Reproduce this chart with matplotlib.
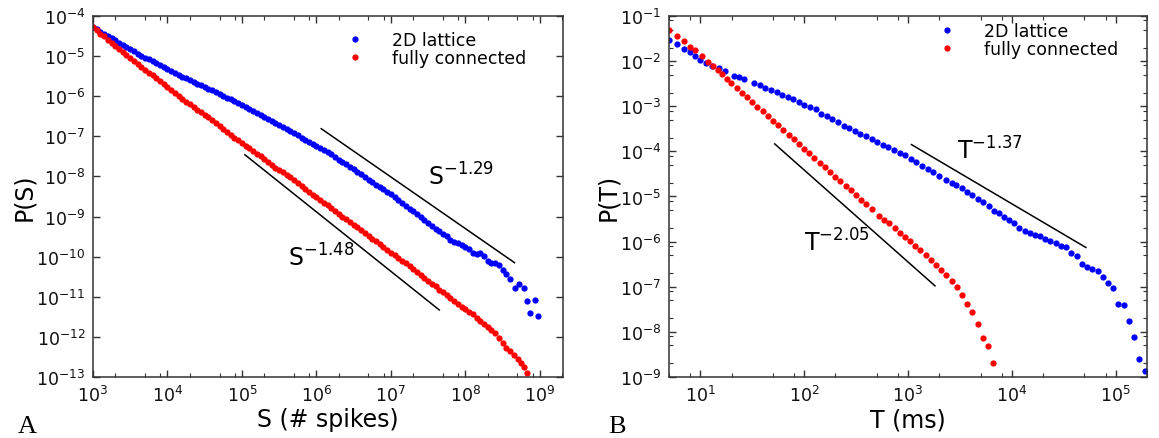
import matplotlib
matplotlib.use("Agg")
import matplotlib.pyplot as plt
from matplotlib.ticker import LogLocator, NullFormatter

# ---------------- data (log10 values) ----------------
# Panel A: avalanche size distribution
logS_lattice = [3.00, 3.05, 3.10, 3.15, 3.20, 3.25, 3.30, 3.35, 3.40, 3.45, 3.50, 3.55, 3.60, 3.65,
                3.70, 3.75, 3.80, 3.85, 3.90, 3.95, 4.00, 4.05, 4.10, 4.15, 4.20, 4.25, 4.30, 4.35,
                4.40, 4.45, 4.50, 4.55, 4.60, 4.65, 4.70, 4.75, 4.80, 4.85, 4.90, 4.95, 5.00, 5.05,
                5.10, 5.15, 5.20, 5.25, 5.30, 5.35, 5.40, 5.45, 5.50, 5.55, 5.60, 5.65, 5.70, 5.75,
                5.80, 5.85, 5.90, 5.95, 6.00, 6.05, 6.10, 6.15, 6.20, 6.25, 6.30, 6.35, 6.40, 6.45,
                6.50, 6.55, 6.60, 6.65, 6.70, 6.75, 6.80, 6.85, 6.90, 6.95, 7.00, 7.05, 7.10, 7.15,
                7.20, 7.25, 7.30, 7.35, 7.40, 7.45, 7.50, 7.55, 7.60, 7.65, 7.70, 7.75, 7.80, 7.85,
                7.90, 7.95, 8.00, 8.05, 8.10, 8.15, 8.20, 8.25, 8.30, 8.35, 8.40, 8.45, 8.50, 8.55,
                8.60, 8.664, 8.72, 8.785, 8.826, 8.87, 8.928, 8.973]
logP_lattice = [-4.27, -4.33, -4.39, -4.45, -4.50, -4.56, -4.61, -4.67, -4.73, -4.78, -4.83, -4.88, -4.94, -4.99,
                -5.04, -5.08, -5.13, -5.17, -5.22, -5.26, -5.31, -5.36, -5.41, -5.46, -5.51, -5.55, -5.60, -5.64,
                -5.69, -5.73, -5.77, -5.81, -5.85, -5.90, -5.95, -5.99, -6.04, -6.08, -6.13, -6.18, -6.23, -6.28,
                -6.32, -6.37, -6.42, -6.47, -6.52, -6.57, -6.62, -6.67, -6.72, -6.77, -6.82, -6.87, -6.92, -6.97,
                -7.03, -7.08, -7.14, -7.19, -7.24, -7.29, -7.34, -7.39, -7.45, -7.51, -7.58, -7.64, -7.70, -7.76,
                -7.82, -7.89, -7.95, -8.01, -8.08, -8.14, -8.21, -8.26, -8.32, -8.38, -8.45, -8.51, -8.58, -8.65,
                -8.73, -8.80, -8.87, -8.94, -9.01, -9.08, -9.17, -9.24, -9.32, -9.36, -9.43, -9.49, -9.58, -9.64,
                -9.67, -9.70, -9.75, -9.82, -9.90, -9.93, -9.90, -9.98, -10.10, -10.16, -10.17, -10.22, -10.33, -10.44,
                -10.55, -10.77, -10.68, -10.79, -11.10, -11.41, -11.08, -11.47]

logS_full = [3.00, 3.05, 3.10, 3.15, 3.20, 3.25, 3.30, 3.35, 3.40, 3.45, 3.50, 3.55, 3.60, 3.65,
             3.70, 3.75, 3.80, 3.85, 3.90, 3.95, 4.00, 4.05, 4.10, 4.15, 4.20, 4.25, 4.30, 4.35,
             4.40, 4.45, 4.50, 4.55, 4.60, 4.65, 4.70, 4.75, 4.80, 4.85, 4.90, 4.95, 5.00, 5.05,
             5.10, 5.15, 5.20, 5.25, 5.30, 5.35, 5.40, 5.45, 5.50, 5.55, 5.60, 5.65, 5.70, 5.75,
             5.80, 5.85, 5.90, 5.95, 6.00, 6.05, 6.10, 6.15, 6.20, 6.25, 6.30, 6.35, 6.40, 6.45,
             6.50, 6.55, 6.60, 6.65, 6.70, 6.75, 6.80, 6.85, 6.90, 6.95, 7.00, 7.05, 7.10, 7.15,
             7.20, 7.25, 7.30, 7.35, 7.40, 7.45, 7.50, 7.55, 7.60, 7.65, 7.70, 7.75, 7.80, 7.85,
             7.90, 7.95, 8.00, 8.05, 8.10, 8.15, 8.20, 8.25, 8.30, 8.35, 8.40, 8.45, 8.50, 8.55,
             8.60, 8.65, 8.70, 8.75, 8.79, 8.83]
logP_full = [-4.28, -4.36, -4.44, -4.51, -4.59, -4.67, -4.74, -4.82, -4.89, -4.97, -5.04, -5.12, -5.20, -5.28,
             -5.35, -5.42, -5.48, -5.55, -5.62, -5.70, -5.78, -5.85, -5.92, -5.99, -6.06, -6.14, -6.20, -6.27,
             -6.34, -6.40, -6.46, -6.53, -6.60, -6.67, -6.75, -6.82, -6.89, -6.96, -7.03, -7.10, -7.16, -7.23,
             -7.30, -7.36, -7.43, -7.50, -7.57, -7.64, -7.71, -7.78, -7.84, -7.90, -7.96, -8.02, -8.08, -8.16,
             -8.24, -8.31, -8.39, -8.46, -8.52, -8.59, -8.66, -8.72, -8.79, -8.86, -8.93, -9.00, -9.06, -9.13,
             -9.20, -9.27, -9.34, -9.41, -9.48, -9.55, -9.62, -9.69, -9.76, -9.83, -9.90, -9.97, -10.03, -10.10,
             -10.16, -10.23, -10.30, -10.38, -10.45, -10.52, -10.60, -10.67, -10.74, -10.82, -10.89, -10.96, -11.04, -11.11,
             -11.19, -11.25, -11.31, -11.37, -11.44, -11.52, -11.60, -11.67, -11.75, -11.82, -11.91, -12.02, -12.15, -12.28,
             -12.36, -12.45, -12.55, -12.66, -12.76, -12.91]

# Panel B: avalanche duration distribution
logT_lattice = [0.699, 0.778, 0.845, 0.903, 0.954, 1.000, 1.058, 1.117, 1.178, 1.238, 1.323, 1.370, 1.420,
                1.520, 1.574, 1.628, 1.680, 1.735, 1.790, 1.843, 1.897, 1.950, 2.000, 2.060, 2.110, 2.166,
                2.220, 2.270, 2.327, 2.380, 2.435, 2.490, 2.540, 2.596, 2.650, 2.700, 2.758, 2.810, 2.865,
                2.920, 2.970, 3.027, 3.080, 3.135, 3.190, 3.240, 3.296,
                3.364, 3.422, 3.467, 3.519, 3.573, 3.621, 3.676, 3.725, 3.776, 3.824, 3.873, 3.928, 3.976,
                4.024, 4.072, 4.127, 4.176, 4.227, 4.275, 4.324, 4.372, 4.427, 4.475, 4.523, 4.572, 4.626,
                4.675, 4.727, 4.775, 4.829, 4.878, 4.929, 4.974, 5.022, 5.080, 5.129, 5.174, 5.225, 5.280]
logP_T_lattice = [-1.54, -1.63, -1.73, -1.80, -1.89, -1.97, -2.04, -2.10, -2.16, -2.23, -2.32, -2.35, -2.39,
                  -2.49, -2.54, -2.60, -2.64, -2.69, -2.74, -2.80, -2.84, -2.90, -2.97, -3.02, -3.07, -3.17,
                  -3.22, -3.28, -3.35, -3.43, -3.48, -3.54, -3.61, -3.67, -3.72, -3.80, -3.85, -3.91, -3.98,
                  -4.03, -4.09, -4.17, -4.24, -4.32, -4.39, -4.46, -4.54,
                  -4.634, -4.70, -4.745, -4.818, -4.907, -4.967, -5.055, -5.13, -5.217, -5.314, -5.373, -5.462, -5.514,
                  -5.587, -5.698, -5.757, -5.809, -5.853, -5.882, -5.942, -5.993, -6.03, -6.09, -6.126, -6.252, -6.325,
                  -6.496, -6.556, -6.607, -6.658, -6.79, -6.917, -7.028, -7.382, -7.404, -7.766, -8.12, -8.60, -8.86]

logT_full = [0.699, 0.778, 0.845, 0.903, 0.954, 1.013, 1.070, 1.126, 1.174, 1.213, 1.254, 1.300, 1.350,
             1.400, 1.450, 1.500, 1.550, 1.600, 1.650, 1.700, 1.750, 1.800, 1.850, 1.900, 1.950, 2.000,
             2.050, 2.100, 2.150, 2.200, 2.250, 2.300, 2.350, 2.400, 2.450, 2.500, 2.550, 2.600, 2.650,
             2.720, 2.768, 2.816, 2.871, 2.920, 2.971, 3.019, 3.068, 3.116, 3.171, 3.219, 3.268, 3.319,
             3.364, 3.422, 3.470, 3.519, 3.573, 3.621, 3.673, 3.718, 3.770, 3.821]
logP_T_full = [-1.303, -1.436, -1.561, -1.68, -1.753, -1.894, -2.013, -2.10, -2.197, -2.285, -2.396, -2.49, -2.59,
               -2.70, -2.80, -2.90, -3.01, -3.11, -3.22, -3.32, -3.42, -3.53, -3.63, -3.73, -3.84, -3.94,
               -4.04, -4.15, -4.25, -4.35, -4.45, -4.56, -4.66, -4.76, -4.86, -4.97, -5.07, -5.17, -5.27,
               -5.425, -5.514, -5.594, -5.705, -5.809, -5.905, -5.993, -6.09, -6.186, -6.296, -6.407, -6.518, -6.622,
               -6.733, -6.866, -7.012, -7.183, -7.382, -7.567, -7.826, -8.143, -8.32, -8.70]

# guide power-law lines: (log10 x start, log10 y start, log10 x end, log10 y end)
guide_S_lattice = [6.065, -6.81, 8.66, -10.15]
guide_S_full = [5.04, -7.46, 7.65, -11.33]
guide_T_lattice = [3.034, -3.85, 4.713, -6.13]
guide_T_full = [1.717, -3.835, 3.26, -6.98]

label_lattice = "2D lattice"
label_full = "fully connected"

BLUE = "#0000ff"
RED = "#ff0000"

plt.rcParams['font.family'] = ['DejaVu Sans']
plt.rcParams['mathtext.fontset'] = 'dejavusans'

fig = plt.figure(figsize=(11.59, 4.39), dpi=100)
axA = fig.add_axes([0.0802, 0.139, 0.4055, 0.8223])
axB = fig.add_axes([0.5772, 0.139, 0.4124, 0.8223])

ms = 4.5


def pw(v):
    return [10.0 ** a for a in v]


axA.plot(pw(logS_lattice), pw(logP_lattice), 'o', color=BLUE, ms=ms, mew=0, label=label_lattice)
axA.plot(pw(logS_full), pw(logP_full), 'o', color=RED, ms=ms, mew=0, label=label_full)
axA.plot(pw(guide_S_lattice[0::2]), pw(guide_S_lattice[1::2]), color='black', lw=1.1)
axA.plot(pw(guide_S_full[0::2]), pw(guide_S_full[1::2]), color='black', lw=1.1)

axB.plot(pw(logT_lattice), pw(logP_T_lattice), 'o', color=BLUE, ms=ms, mew=0, label=label_lattice)
axB.plot(pw(logT_full), pw(logP_T_full), 'o', color=RED, ms=ms, mew=0, label=label_full)
axB.plot(pw(guide_T_lattice[0::2]), pw(guide_T_lattice[1::2]), color='black', lw=1.1)
axB.plot(pw(guide_T_full[0::2]), pw(guide_T_full[1::2]), color='black', lw=1.1)

for ax in (axA, axB):
    ax.set_xscale('log')
    ax.set_yscale('log')

axA.set_xlim(1e3, 2.04e9)
axA.set_ylim(1e-13, 1e-4)
axB.set_xlim(5, 2.0e5)
axB.set_ylim(1e-9, 1e-1)

tick_fs = 12.5
for ax in (axA, axB):
    ax.tick_params(which='both', direction='in', top=True, right=True, labelsize=tick_fs,
                   colors='#333333', labelcolor='#111111')
    ax.tick_params(which='major', length=5, width=1.0, pad=5.5)
    ax.tick_params(which='minor', length=2.8, width=0.8)
    for s in ax.spines.values():
        s.set_color('#333333')
        s.set_linewidth(1.1)

axA.xaxis.set_major_locator(LogLocator(base=10, numticks=20))
axA.xaxis.set_minor_locator(LogLocator(base=10, subs=(2.0, 5.0, 8.0), numticks=20))
axA.xaxis.set_minor_formatter(NullFormatter())
axA.yaxis.set_major_locator(LogLocator(base=10, numticks=20))
axA.yaxis.set_minor_locator(LogLocator(base=10, subs=(), numticks=20))

axB.xaxis.set_major_locator(LogLocator(base=10, numticks=20))
axB.xaxis.set_minor_locator(LogLocator(base=10, subs=(2.0, 5.0, 8.0), numticks=20))
axB.xaxis.set_minor_formatter(NullFormatter())
axB.yaxis.set_major_locator(LogLocator(base=10, numticks=20))
axB.yaxis.set_minor_locator(LogLocator(base=10, subs=(2.0, 5.0, 8.0), numticks=20))
axB.yaxis.set_minor_formatter(NullFormatter())

label_fs = 17
axA.set_xlabel('S (# spikes)', fontsize=label_fs, labelpad=2)
axA.set_ylabel('P(S)', fontsize=label_fs, labelpad=0)
axB.set_xlabel('T (ms)', fontsize=label_fs, labelpad=2)
axB.set_ylabel('P(T)', fontsize=label_fs, labelpad=0)

ann_fs = 17
axA.text(10 ** 7.50, 10 ** -8.21, r'$\mathregular{S^{-1.29}}$', fontsize=ann_fs)
axA.text(10 ** 5.62, 10 ** -10.23, r'$\mathregular{S^{-1.48}}$', fontsize=ann_fs)
axB.text(10 ** 3.47, 10 ** -4.17, r'$\mathregular{T^{-1.37}}$', fontsize=ann_fs)
axB.text(10 ** 1.995, 10 ** -6.2, r'$\mathregular{T^{-2.05}}$', fontsize=ann_fs)

leg_kw = dict(frameon=False, fontsize=12.5, handlelength=1.0, handletextpad=1.6,
              labelspacing=0.0, borderpad=0.0, markerscale=1.0, loc='upper left')
axA.legend(bbox_to_anchor=(0.521, 0.983), **leg_kw)
axB.legend(bbox_to_anchor=(0.546, 1.008), **leg_kw)

fig.text(0.015, 0.0137, 'A', fontsize=19, family='Liberation Serif', va='baseline')
fig.text(0.525, 0.0137, 'B', fontsize=19, family='Liberation Serif', va='baseline')

fig.savefig('out.png', dpi=100)
